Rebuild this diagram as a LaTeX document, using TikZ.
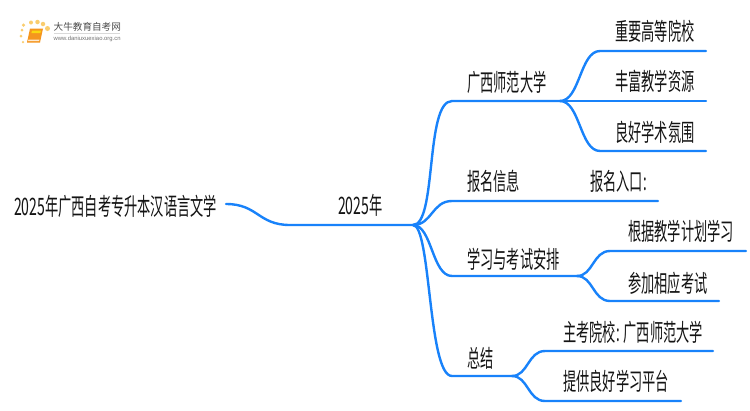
\documentclass[tikz,border=0pt]{standalone}
\usepackage{fontspec}
\setmainfont{Liberation Sans}
\newfontfamily\cjk[FakeStretch=0.55]{Noto Sans CJK SC}
\newfontfamily\dig[FakeStretch=0.585]{Noto Sans CJK SC}
\newfontfamily\cjklogo{Noto Sans CJK SC}
\definecolor{branch}{RGB}{24,130,250}
\definecolor{bookor}{RGB}{245,150,30}
\definecolor{dotor}{RGB}{250,205,110}
\tikzset{
  label/.style={font=\cjk\fontsize{24}{24}\selectfont,text=black!92,inner sep=0pt,anchor=west},
  link/.style={draw=branch,line width=2.4pt,line cap=round,line join=round},
  dotmark/.style={circle,fill=dotor,inner sep=0pt,minimum size=#1},
}
\begin{document}
\begin{tikzpicture}[x=1pt,y=-1pt]
\useasboundingbox[fill=white] (0,0) rectangle (750,410);
% logo
\fill[bookor] (30,28.5) -- (43,28.5) -- (40,42.5) -- (27,42.5) -- cycle;
\fill[white!80!bookor] (28.5,39.5) -- (39.5,39.5) -- (39,41) -- (28,41) -- cycle;
\fill[yellow!70!bookor] (32,30.5) -- (41,30.5) -- (40.4,33) -- (31.4,33) -- cycle;
\node[dotmark=2.5pt] (d0) at (23,42) {};
\node[dotmark=3pt] (d1) at (21,36) {};
\node[dotmark=3pt] (d2) at (22,30) {};
\node[dotmark=3.5pt] (d3) at (23.5,25) {};
\node[dotmark=4pt] (d4) at (31,22.5) {};
\node[dotmark=4.5pt] (d5) at (37.5,22) {};
\node[dotmark=4.5pt] (d6) at (43,24) {};
\node[dotmark=5pt] (d7) at (47.5,28.5) {};
\node[font=\cjklogo\fontsize{9.6}{10}\selectfont,text=black!70,inner sep=0pt,anchor=west] (lg1) at (53.5,27) {大牛教育自考网};
\draw[black!15,line width=0.6pt] (54,33.5) -- (120,33.5);
\node[font=\fontsize{5.9}{6}\selectfont,text=black!55,inner sep=0pt,anchor=west] (lg2) at (53.5,39) {www.daniuxuexiao.org.cn};
% coordinates
\coordinate (s) at (226,204);
\coordinate (t) at (290,225);
\coordinate (h) at (413,225);
\coordinate (a0) at (452,101); \coordinate (a1) at (560,101);
\coordinate (a2) at (600,51);  \coordinate (a2e) at (706,51);
\coordinate (a3e) at (706,101);
\coordinate (a4) at (600,151); \coordinate (a4e) at (706,151);
\coordinate (b0) at (452,201); \coordinate (b1) at (658,201);
\coordinate (c0) at (452,276); \coordinate (c1) at (577,276);
\coordinate (c2) at (610,251); \coordinate (c2e) at (746,251);
\coordinate (c3) at (610,301); \coordinate (c3e) at (719,301);
\coordinate (e0) at (452,376); \coordinate (e1) at (512,376);
\coordinate (e2) at (545,351); \coordinate (e2e) at (713,351);
\coordinate (e3) at (545,401); \coordinate (e3e) at (681,401);
% connectors
\path[link] (s) .. controls (258,204) and (258,225) .. (t) -- (h);
\path[link] (h) .. controls (437,225) and (425,101) .. (a0) -- (a1);
\path[link] (h) .. controls (432,225) and (432,201) .. (b0) -- (b1);
\path[link] (h) .. controls (432,225) and (432,276) .. (c0) -- (c1);
\path[link] (h) .. controls (431,225) and (428,376) .. (e0) -- (e1);
\path[link] (a1) .. controls (580,101) and (580,51) .. (a2) -- (a2e);
\path[link] (a1) -- (a3e);
\path[link] (a1) .. controls (580,101) and (580,151) .. (a4) -- (a4e);
\path[link] (c1) .. controls (593,276) and (593,251) .. (c2) -- (c2e);
\path[link] (c1) .. controls (593,276) and (593,301) .. (c3) -- (c3e);
\path[link] (e1) .. controls (528,376) and (528,351) .. (e2) -- (e2e);
\path[link] (e1) .. controls (528,376) and (528,401) .. (e3) -- (e3e);
% labels
\node[label] (root) at (14,206) {{\dig 2025}年广西自考专升本汉语言文学};
\node[label] (year) at (338,205) {{\dig 2025}年};
\node[label] (n1) at (467,82) {广西师范大学};
\node[label] (n11) at (615,31) {重要高等院校};
\node[label] (n12) at (615,81) {丰富教学资源};
\node[label] (n13) at (615,132) {良好学术氛围};
\node[label] (n2) at (467,181) {报名信息};
\node[label] (n21) at (590,181) {报名入口:};
\node[label] (n3) at (467,259) {学习与考试安排};
\node[label] (n31) at (628,231) {根据教学计划学习};
\node[label] (n32) at (628,283) {参加相应考试};
\node[label] (n4) at (467,358) {总结};
\node[label] (n41) at (563,332) {主考院校: 广西师范大学};
\node[label] (n42) at (563,381) {提供良好学习平台};
\end{tikzpicture}
\end{document}
